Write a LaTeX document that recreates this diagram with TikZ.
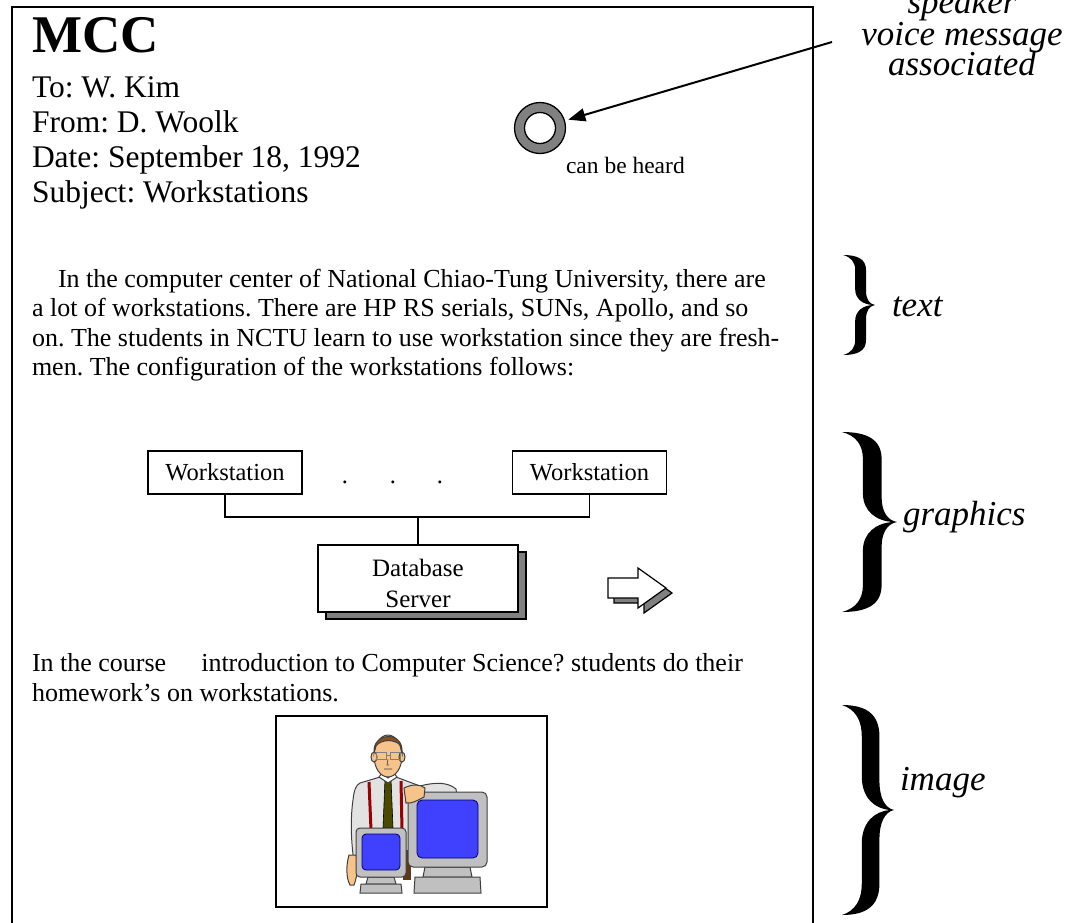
\documentclass[tikz,border=0pt]{standalone}
\usepackage{fontspec}
\setmainfont{Liberation Serif}
\usetikzlibrary{arrows.meta}
\definecolor{shadowgray}{HTML}{808080}
\definecolor{monframe}{HTML}{C0C0C0}
\definecolor{monedge}{HTML}{404040}
\definecolor{screenblue}{HTML}{4040FF}
\definecolor{shirtgray}{HTML}{E2E2E2}
\definecolor{suspred}{HTML}{990000}
\definecolor{tieolive}{HTML}{4A4A00}
\definecolor{skin}{HTML}{F6C48A}
\definecolor{hairbrown}{HTML}{8A5020}
\frenchspacing
\begin{document}
\begin{tikzpicture}[x=1pt,y=-1pt,
  every node/.style={inner sep=0pt, outer sep=0pt},
  hdr/.style={anchor=base west, font=\fontsize{31.5}{35}\selectfont},
  para/.style={anchor=base west, font=\fontsize{26}{30}\selectfont},
  side/.style={anchor=base, font=\fontsize{35}{31}\selectfont\itshape},
  wsbox/.style={draw, line width=1.5pt, fill=white, minimum width=154pt,
    minimum height=43pt, font=\fontsize{24.5}{28}\selectfont},
  dbbox/.style={draw, line width=1.5pt, minimum width=200pt, minimum height=67pt},
  dbtext/.style={align=center, font=\fontsize{25}{31}\selectfont},
  wire/.style={line width=1.5pt},
  dotmark/.style={anchor=base, font=\fontsize{24.5}{28}\selectfont},
  outline/.style={draw=monedge, line width=1pt},
  rbrace/.pic={
    \fill (0,0) .. controls (0.45,0) and (0.72,0.04) .. (0.72,0.15)
      -- (0.72,0.36) .. controls (0.72,0.44) and (0.82,0.49) .. (1,0.5)
      .. controls (0.82,0.51) and (0.72,0.56) .. (0.72,0.64)
      -- (0.72,0.85) .. controls (0.72,0.96) and (0.45,1) .. (0,1)
      .. controls (0.25,0.98) and (0.38,0.93) .. (0.38,0.85)
      -- (0.38,0.66) .. controls (0.38,0.56) and (0.62,0.505) .. (0.93,0.5)
      .. controls (0.62,0.495) and (0.38,0.44) .. (0.38,0.34)
      -- (0.38,0.15) .. controls (0.38,0.07) and (0.25,0.02) .. (0,0) -- cycle;
  },
]
\useasboundingbox (0,0) rectangle (1076,922);

% page frame (runs off the bottom)
\draw[line width=2.5pt] (12,925) -- (12,7) -- (813,7) -- (813,925);

% header block
\node[anchor=base west, font=\fontsize{53}{60}\selectfont\bfseries] (title) at (32,52) {MCC};
\node[hdr] (to)   at (32,97)  {To: W. Kim};
\node[hdr] (from) at (32,132) {From: D. Woolk};
\node[hdr] (date) at (32,167) {Date: September 18, 1992};
\node[hdr] (subj) at (32,202) {Subject: Workstations};

% speaker icon and its note
\node[circle, draw, line width=1.3pt, fill=shadowgray, minimum size=51pt] (spk) at (540,128) {};
\node[circle, draw, line width=1.3pt, fill=white, minimum size=31pt] (spkin) at (540,128) {};
\node[anchor=base west, font=\fontsize{23.5}{26}\selectfont] (heard) at (566,173) {can be heard};

\node[side] (sp1) at (962,13) {speaker};
\node[side] (sp2) at (962,45) {voice message};
\node[side] (sp3) at (962,75) {associated};
\coordinate (vsrc) at (832,42);
\draw[line width=2pt, -{Triangle[length=17pt,width=13pt]}, shorten >=4pt] (vsrc) -- (spk);

% body text
\node[para] (p1) at (58,287) {In the computer center of National Chiao-Tung University, there are};
\node[para] (p2) at (32,316.5) {a lot of workstations. There are HP RS serials, SUNs, Apollo, and so};
\node[para] (p3) at (32,346) {on. The students in NCTU learn to use workstation since they are fresh-};
\node[para] (p4) at (32,375.5) {men. The configuration of the workstations follows:};

% configuration diagram
\node[wsbox] (wsL) at (225,472.5) {Workstation};
\node[wsbox] (wsR) at (589.5,472.5) {Workstation};
\node[dotmark] (d1) at (345,483) {.};
\node[dotmark] (d2) at (393,483) {.};
\node[dotmark] (d3) at (440,483) {.};
\node[dbbox, fill=shadowgray] (dbsh) at (426,585.5) {};
\node[dbbox, fill=white] (db) at (418,578.5) {};
\node[dbtext] (dblabel) at (418,583) {Database\\Server};
\coordinate (bus) at (418,517);
\draw[wire] (wsL.south) |- (bus) -| (wsR.south);
\draw[wire] (bus) -- (db.north);

% hollow arrow with shadow
\draw[line width=1.2pt, fill=shadowgray] (614,583) -- (644,583) -- (644,573) -- (672,593)
  -- (644,613) -- (644,603) -- (614,603) -- cycle;
\draw[line width=1.2pt, fill=white] (608,578) -- (638,578) -- (638,568) -- (666,588)
  -- (638,608) -- (638,598) -- (608,598) -- cycle;

% second paragraph
\node[para] (q1) at (32,671) {In the course\hspace{35pt}introduction to Computer Science? students do their};
\node[para] (q2) at (32,701) {homework's on workstations.};

% picture frame with clip art
\draw[line width=2pt] (276,716) rectangle (547,907);

% shirt and body
\draw[outline, fill=shirtgray] (360,783) -- (380,777) -- (396,777) -- (420,786)
  .. controls (435,782) and (448,782) .. (456,789) -- (457,797) -- (430,800)
  -- (412,800) -- (410,872) -- (356,872) .. controls (351,850) and (350,820) .. (353,800)
  .. controls (354,790) and (356,785) .. (360,783) -- cycle;
\fill[hairbrown!70!black] (403,850) rectangle (411,880);
% hanging hand
\draw[outline, fill=skin] (349,855) .. controls (346,865) and (346,878) .. (350,885)
  -- (354,885) .. controls (358,875) and (358,862) .. (356,855) -- cycle;
% suspenders and tie
\draw[suspred, line width=3pt] (369,782) -- (371,830);
\draw[suspred, line width=3pt] (401,781) -- (402,830);
\draw[draw=black, line width=0.6pt, fill=tieolive] (385,779) -- (391,779) -- (393,828) -- (383,828) -- cycle;
% neck and head
\fill[skin] (382,768) rectangle (395,780);
\draw[outline, fill=white] (379,777) -- (388,783) -- (397,777) -- (394,773) -- (388,778) -- (382,773) -- cycle;
\draw[outline, fill=skin] (388,756) ellipse (14pt and 21pt);
\draw[outline, fill=skin] (374,757) ellipse (3pt and 5pt);
\draw[outline, fill=skin] (402,757) ellipse (3pt and 5pt);
\draw[outline, fill=hairbrown] (374,753) .. controls (372,732) and (404,730) .. (402,753)
  -- (400,745) .. controls (395,739) and (381,739) .. (376,746) -- cycle;
\draw[gray, line width=1pt] (376,752) rectangle (386,759) (390,752) rectangle (400,759) (386,755) -- (390,755);
\draw[monedge, line width=0.6pt] (388,759) -- (387,765) -- (389,765) (384,769) -- (392,769);

% large monitor
\draw[outline, fill=monframe] (425,867) -- (470,867) -- (472,877) -- (423,877) -- cycle;
\draw[outline, fill=monframe] (415,877) -- (480,877) -- (481,893) -- (414,893) -- cycle;
\draw[outline, fill=monframe, rounded corners=5pt] (408,792) rectangle (487,867);
\draw[draw=blue!40!black, line width=0.8pt, fill=screenblue, rounded corners=5pt] (417,800) rectangle (478,858);
% hand resting on it
\draw[outline, fill=skin] (404,788) .. controls (412,784) and (420,784) .. (425,788)
  -- (424,797) .. controls (418,800) and (412,804) .. (406,803) -- cycle;

% small monitor
\draw[outline, fill=monframe] (368,877) -- (394,877) -- (396,884) -- (366,884) -- cycle;
\draw[outline, fill=monframe] (361,884) -- (401,884) -- (402,893) -- (360,893) -- cycle;
\draw[outline, fill=monframe, rounded corners=4pt] (356,828) rectangle (406,877);
\draw[draw=blue!40!black, line width=0.8pt, fill=screenblue, rounded corners=4pt] (362,834) rectangle (400,870);

% braces and section labels
\pic[xscale=32, yscale=100] (btext) at (843,255) {rbrace};
\node[side, anchor=base west] (ltext) at (892,316) {text};
\pic[xscale=55, yscale=180] (bgfx) at (842,432) {rbrace};
\node[side, anchor=base west] (lgfx) at (903,525) {graphics};
\pic[xscale=52, yscale=210] (bimg) at (842,705) {rbrace};
\node[side, anchor=base west] (limg) at (900,790) {image};
\end{tikzpicture}
\end{document}
